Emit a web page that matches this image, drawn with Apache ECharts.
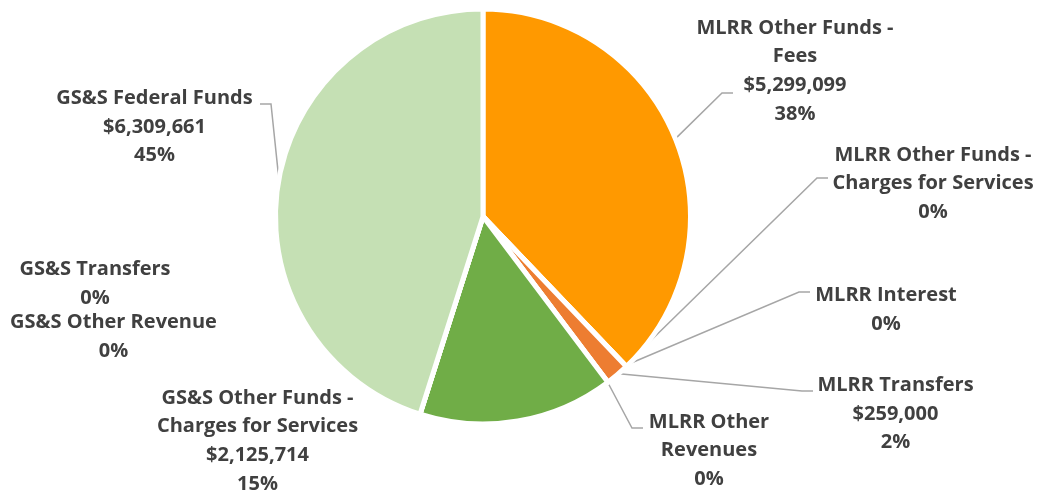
<!DOCTYPE html>
<html>
<head>
<meta charset="utf-8">
<script src="https://cdn.jsdelivr.net/npm/echarts@6/dist/echarts.min.js"></script>
<style>
html,body{margin:0;padding:0;background:#fff;}
#main{width:1037px;height:497px;}
</style>
</head>
<body>
<div id="main"></div>
<script>
// ---- data ----
const categories = [
  'MLRR Other Funds -\nFees',
  'MLRR Other Funds -\nCharges for Services',
  'MLRR Interest',
  'MLRR Transfers',
  'MLRR Other\nRevenues',
  'GS&S Other Funds -\nCharges for Services',
  'GS&S Other Revenue',
  'GS&S Transfers',
  'GS&S Federal Funds'
];
const values = [5299099, 0, 0, 259000, 0, 2125714, 0, 0, 6309661];
const colors = ['#FF9900', '#F4B183', '#A5A5A5', '#ED7D31', '#FFC000', '#70AD47', '#A9D18E', '#548235', '#C5E0B4'];

// ---- layout (label placement, not data) ----
const CX = 483, CY = 216.5, R = 207.5, EDGE = 206;
const labelPos = [
  { x: 795,   y: 71,    end: [733, 93] },
  { x: 933,   y: 183.5, end: [828, 178] },
  { x: 886,   y: 310,   end: [810, 292] },
  { x: 895.5, y: 414,   end: [813, 391] },
  { x: 709,   y: 450.5, end: [643, 428] },
  { x: 257.5, y: 441,   end: null },
  { x: 113.5, y: 337,   end: null },
  { x: 95,    y: 284,   end: null },
  { x: 154.5, y: 127,   end: [260, 104] }
];

const total = values.reduce((a, b) => a + b, 0);
const midAngles = [];
let acc = 0;
values.forEach(v => { midAngles.push((acc + v / 2) / total * 360); acc += v; });
function arcPoint(deg) {
  const a = deg * Math.PI / 180;
  return [CX + EDGE * Math.sin(a), CY - EDGE * Math.cos(a)];
}

const chart = echarts.init(document.getElementById('main'), null, { renderer: 'canvas' });
chart.setOption({
  backgroundColor: '#ffffff',
  animation: false,
  series: [{
    type: 'pie',
    center: [CX, CY],
    radius: R,
    startAngle: 90,
    clockwise: true,
    avoidLabelOverlap: false,
    minShowLabelAngle: 0,
    itemStyle: { borderColor: '#ffffff', borderWidth: 5 },
    emphasis: { disabled: true },
    label: {
      show: true,
      position: 'outside',
      fontFamily: 'Open Sans',
      fontWeight: 'bold',
      fontSize: 20,
      lineHeight: 28.7,
      color: '#404040',
      align: 'center',
      formatter: function (p) {
        const v = values[p.dataIndex];
        const pct = Math.round(v / total * 100) + '%';
        if (v > 0) return categories[p.dataIndex] + '\n$' + v.toLocaleString('en-US') + '\n' + pct;
        return categories[p.dataIndex] + '\n' + pct;
      }
    },
    labelLine: { show: true, lineStyle: { color: '#A6A6A6', width: 1.5 } },
    labelLayout: function (p) {
      const L = labelPos[p.dataIndex];
      const out = { x: L.x, y: L.y, align: 'center', verticalAlign: 'middle' };
      if (L.end) {
        const s = arcPoint(midAngles[p.dataIndex]);
        const dir = L.end[0] > s[0] ? -11 : 11;
        out.labelLinePoints = [s, [L.end[0] + dir, L.end[1]], L.end];
      }
      return out;
    },
    data: categories.map((c, i) => ({
      name: c,
      value: values[i],
      itemStyle: { color: colors[i] },
      labelLine: { show: labelPos[i].end !== null }
    }))
  }]
});
</script>
</body>
</html>
